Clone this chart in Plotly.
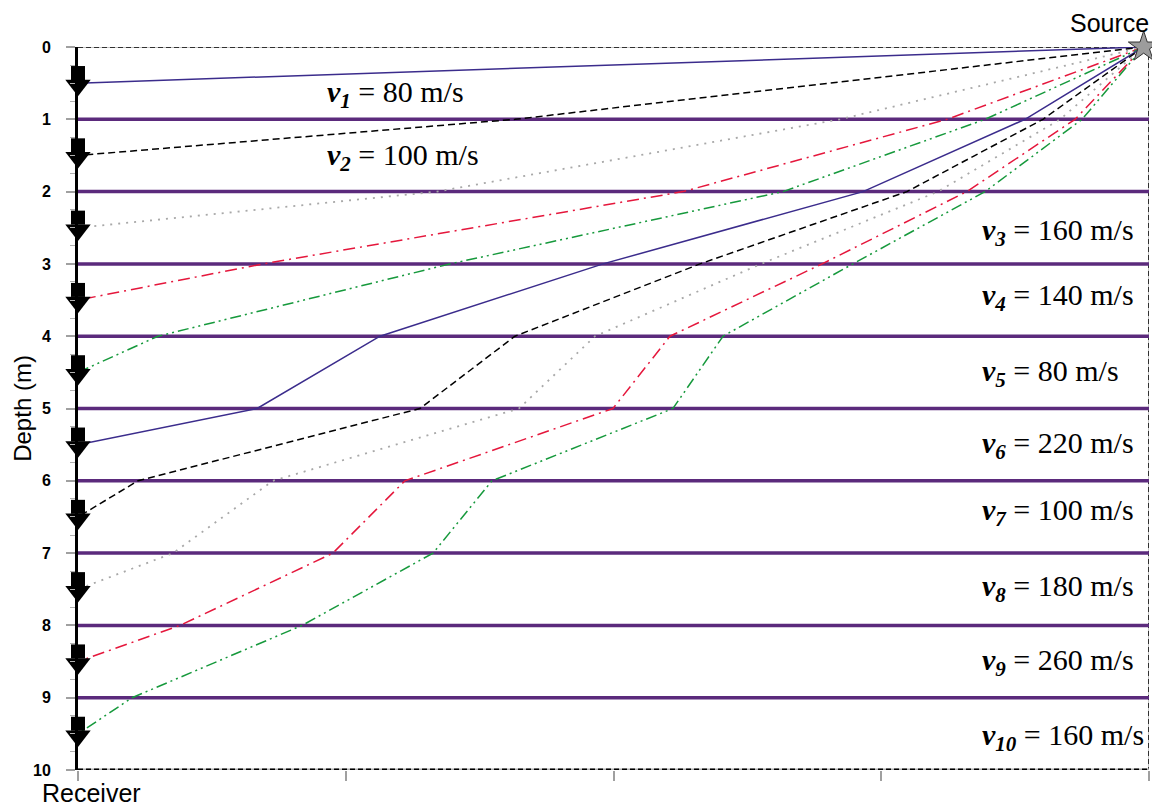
import plotly.graph_objects as go

# ---------------- data ----------------
layer_velocities = [80, 100, 160, 140, 80, 220, 100, 180, 260, 160]   # m/s
layer_boundaries = [1, 2, 3, 4, 5, 6, 7, 8, 9]                        # m
receiver_depths = [0.5, 1.5, 2.5, 3.5, 4.5, 5.5, 6.5, 7.5, 8.5, 9.5]   # m
source_x = 3.98
source_depth = 0.0

# horizontal position where each ray crosses boundary 1, 2, 3 ...
ray1_x = []
ray2_x = [1.632]
ray3_x = [2.846, 1.341]
ray4_x = [3.246, 2.260, 0.691]
ray5_x = [3.388, 2.633, 1.389, 0.299]
ray6_x = [3.537, 2.932, 1.961, 1.128, 0.669]
ray7_x = [3.604, 3.096, 2.323, 1.632, 1.277, 0.224]
ray8_x = [3.668, 3.212, 2.551, 1.931, 1.647, 0.728, 0.355]
ray9_x = [3.724, 3.320, 2.779, 2.211, 1.998, 1.221, 0.952, 0.381]
ray10_x = [3.750, 3.388, 2.894, 2.409, 2.222, 1.546, 1.326, 0.837, 0.202]
rays_x = [ray1_x, ray2_x, ray3_x, ray4_x, ray5_x, ray6_x, ray7_x, ray8_x, ray9_x, ray10_x]

x_ticks = [0, 1, 2, 3, 4]
y_ticks = [0, 1, 2, 3, 4, 5, 6, 7, 8, 9, 10]

# label positions (depth of label, left x of label)
label_depths = [0.65, 1.52, 2.56, 3.46, 4.51, 5.50, 6.43, 7.48, 8.50, 9.54]
label_x = [0.922, 0.922, 3.369, 3.369, 3.369, 3.369, 3.369, 3.369, 3.369, 3.369]

# ---------------- styles ----------------
PURPLE_RAY = "#3b2c8c"
BOUNDARY = "#5b2a7c"
ray_styles = [
    dict(color=PURPLE_RAY, dash="solid", width=1.5),
    dict(color="#000000", dash="7px,4px", width=1.5),
    dict(color="#a8a8a8", dash="2px,6px", width=1.8),
    dict(color="#e5173c", dash="12px,5px,2px,5px", width=1.5),
    dict(color="#16993c", dash="11px,4px,2px,4px,2px,4px", width=1.5),
]

fig = go.Figure()

# layer boundaries
for d in layer_boundaries:
    fig.add_trace(go.Scatter(x=[x_ticks[0], x_ticks[-1]], y=[d, d], mode="lines",
                             line=dict(color=BOUNDARY, width=3.5),
                             hoverinfo="skip", showlegend=False))

# rays
for i, rx in enumerate(rays_x):
    xs = [source_x] + rx + [0]
    ys = [source_depth] + layer_boundaries[:len(rx)] + [receiver_depths[i]]
    st = ray_styles[i % 5]
    fig.add_trace(go.Scatter(x=xs, y=ys, mode="lines",
                             line=dict(color=st["color"], dash=st["dash"], width=st["width"]),
                             hoverinfo="skip", showlegend=False))

# receiver arrows (stem + head)
fig.add_trace(go.Scatter(x=[0] * len(receiver_depths), y=[d - 0.14 for d in receiver_depths],
                         mode="markers", cliponaxis=False,
                         marker=dict(symbol="square", size=14, color="black", line=dict(width=0)),
                         hoverinfo="skip", showlegend=False))
fig.add_trace(go.Scatter(x=[0] * len(receiver_depths), y=[d + 0.03 for d in receiver_depths],
                         mode="markers", cliponaxis=False,
                         marker=dict(symbol="triangle-down", size=22, color="black",
                                     line=dict(width=0)),
                         hoverinfo="skip", showlegend=False))

# source star
fig.add_trace(go.Scatter(x=[source_x], y=[source_depth], mode="markers", cliponaxis=False,
                         marker=dict(symbol="star", size=23, color="#9c9c9c", opacity=1,
                                     line=dict(color="#333333", width=1)),
                         hoverinfo="skip", showlegend=False))

# velocity labels
for i, v in enumerate(layer_velocities):
    n = i + 1
    txt = f"<b><i>v</i></b><sub><b><i>{n}</i></b></sub> = {v} m/s"
    fig.add_annotation(x=label_x[i], y=label_depths[i], xref="x", yref="y", text=txt,
                       showarrow=False, xanchor="left", yanchor="middle",
                       font=dict(family="Liberation Serif", size=30, color="black"))

# frame borders (dashed)
for (x0, y0, x1, y1, w, dash) in [
    (0, 0, 4, 0, 1.5, "5px,3px"),
    (4, 0, 4, 10, 1.5, "5px,3px"),
    (0, 10, 4, 10, 3, "5px,3px"),
]:
    fig.add_shape(type="line", x0=x0, y0=y0, x1=x1, y1=y1, xref="x", yref="y",
                  line=dict(color="#b0b0b0", width=w), layer="below")
    fig.add_shape(type="line", x0=x0, y0=y0, x1=x1, y1=y1, xref="x", yref="y",
                  line=dict(color="#000000", width=w, dash=dash), layer="below")

# texts
fig.add_annotation(text="Source", xref="paper", yref="paper", x=1.001, y=1.0335,
                   xanchor="right", yanchor="middle", showarrow=False, borderpad=0,
                   font=dict(family="Liberation Sans", size=25, color="black"))
fig.add_annotation(text="Receiver", xref="paper", yref="paper", x=0.013, y=-0.032,
                   xanchor="center", yanchor="middle", showarrow=False,
                   font=dict(family="Liberation Sans", size=25, color="black"))
fig.add_annotation(text="Depth (m)", xref="paper", yref="paper", x=-0.052, y=0.5,
                   xanchor="center", yanchor="middle", textangle=-90, showarrow=False,
                   font=dict(family="Liberation Sans", size=24, color="black"))

fig.update_layout(
    width=1152, height=799,
    margin=dict(l=70, r=11, t=39, b=37),
    paper_bgcolor="white", plot_bgcolor="white",
    showlegend=False,
    xaxis=dict(range=[0, 4], tickvals=x_ticks, showticklabels=False, showgrid=False,
               zeroline=False, showline=False, ticks="outside", ticklen=10,
               tickcolor="#a0a0a0", tickwidth=1.5),
    yaxis=dict(range=[10, 0], tickvals=y_ticks, ticktext=[f"<b>{t}</b>" for t in y_ticks],
               showgrid=False, zeroline=False, showline=True, linecolor="black", linewidth=3,
               ticks="outside", ticklen=9, tickcolor="#a0a0a0", tickwidth=1.5,
               ticklabelstandoff=12,
               tickfont=dict(family="Liberation Sans", size=16, color="black"),
               minor=dict(dtick=0.25, ticks="outside", ticklen=5, tickcolor="#b0b0b0",
                          tickwidth=1.2)),
)

fig.write_html("out.html")
